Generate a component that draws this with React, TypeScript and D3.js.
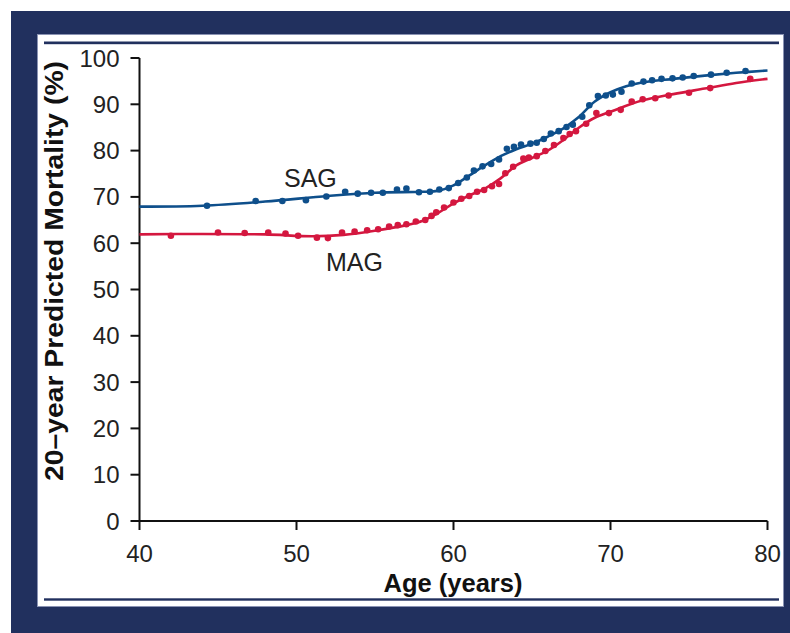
import React from "react";
import * as d3 from "d3";

// SAG observed points (age, predicted 20-yr mortality %)
const sagAges = [44.3, 47.4, 49.1, 50.6, 51.9, 53.1, 53.9, 54.75, 55.5, 56.4, 57.0, 57.8, 58.5, 59.1, 59.7, 60.3, 60.85, 61.3, 61.85, 62.4, 62.9, 63.4, 63.85, 64.3, 64.9, 65.3, 65.75, 66.2, 66.7, 67.2, 67.6, 68.2, 68.65, 69.2, 69.7, 70.15, 70.7, 71.35, 72.1, 72.65, 73.25, 73.95, 74.6, 75.3, 76.4, 77.4, 78.6];
const sagValues = [68.1, 69.1, 69.1, 69.3, 70.1, 71.1, 70.7, 70.9, 70.9, 71.6, 71.8, 71.0, 71.1, 71.6, 71.9, 73.0, 74.2, 75.7, 76.6, 77.1, 78.1, 80.4, 80.8, 81.3, 81.5, 81.7, 82.5, 83.7, 84.2, 85.1, 85.6, 87.3, 89.8, 91.8, 91.9, 92.1, 92.7, 94.5, 94.9, 95.2, 95.5, 95.6, 95.8, 96.1, 96.4, 96.8, 97.2];

// MAG observed points
const magAges = [42.0, 45.0, 46.7, 48.2, 49.3, 50.1, 51.3, 52.0, 52.9, 53.7, 54.5, 55.2, 55.9, 56.45, 57.0, 57.6, 58.2, 58.6, 58.9, 59.4, 60.0, 60.5, 61.0, 61.5, 61.95, 62.45, 62.9, 63.3, 63.8, 64.45, 64.8, 65.3, 65.85, 66.4, 67.0, 67.4, 67.8, 68.45, 69.1, 69.9, 70.65, 71.35, 72.05, 72.85, 73.7, 75.0, 76.35, 78.9];
const magValues = [61.6, 62.3, 62.2, 62.3, 62.1, 61.6, 61.2, 61.1, 62.3, 62.5, 62.8, 63.0, 63.6, 63.9, 64.1, 64.7, 65.0, 65.9, 66.7, 67.7, 68.8, 69.6, 70.2, 71.1, 71.5, 72.3, 72.8, 75.1, 76.5, 78.3, 78.5, 78.8, 79.9, 81.2, 82.7, 83.6, 84.2, 85.8, 88.1, 88.1, 88.8, 90.6, 91.1, 91.3, 91.9, 92.5, 93.5, 95.5];

// Fitted smooth curves
const sagFitAges = [40, 44, 48, 52, 55, 58, 59, 60, 61, 62, 63, 64, 65, 66, 67, 68, 69, 70, 71, 72, 74, 76, 78, 80];
const sagFitValues = [67.9, 68.1, 69.0, 70.2, 70.9, 71.1, 71.3, 72.5, 74.6, 76.8, 78.8, 80.3, 81.5, 83.0, 84.8, 87.3, 90.6, 92.6, 93.9, 94.7, 95.5, 96.2, 96.8, 97.3];
const magFitAges = [40, 44, 48, 51, 53, 55, 57, 58, 59, 60, 61, 62, 63, 64, 65, 66, 67, 68, 69, 70, 72, 74, 76, 78, 80];
const magFitValues = [61.9, 62.0, 61.9, 61.5, 61.8, 62.7, 63.9, 64.8, 66.5, 68.6, 70.3, 71.8, 74.0, 76.8, 78.4, 80.0, 82.3, 85.0, 87.1, 88.4, 90.8, 92.2, 93.4, 94.6, 95.5];

const xTicks = [40, 50, 60, 70, 80];
const yTicks = [0, 10, 20, 30, 40, 50, 60, 70, 80, 90, 100];

const NAVY = "#21305e";
const BLUE = "#0e4f8b";
const RED = "#d4173f";
const FONT = "'Liberation Sans', Arial, Helvetica, sans-serif";

export default function App() {
  const x = d3.scaleLinear().domain([40, 80]).range([139.5, 767.5]);
  const y = d3.scaleLinear().domain([0, 100]).range([521, 58]);

  const line = d3
    .line<[number, number]>()
    .x((d) => x(d[0]))
    .y((d) => y(d[1]))
    .curve(d3.curveCatmullRom.alpha(0.5));

  const sagFit: [number, number][] = sagFitAges.map((a, i) => [a, sagFitValues[i]]);
  const magFit: [number, number][] = magFitAges.map((a, i) => [a, magFitValues[i]]);

  return (
    <svg
      width={790}
      height={633}
      style={{ position: "absolute", left: 0, top: 0, background: "#fff" }}
    >
      <rect x={11} y={11} width={779} height={622} fill={NAVY} />
      <rect x={37.5} y={34.5} width={746} height={572} fill="#ffffff" stroke="#8a93b3" strokeWidth={1} />
      <rect x={44} y={41.5} width={735} height={2.7} fill={NAVY} />
      <rect x={44} y={598.3} width={735} height={2.4} fill={NAVY} />

      {/* axes */}
      <g stroke="#111" strokeWidth={2} fill="none">
        <line x1={x(40)} x2={x(80)} y1={y(0)} y2={y(0)} />
        <line x1={x(40)} x2={x(40)} y1={y(0)} y2={y(100)} />
        {yTicks.map((t) => (
          <line key={"yt" + t} x1={x(40) - 9} x2={x(40)} y1={y(t)} y2={y(t)} />
        ))}
        {xTicks.map((t) => (
          <line key={"xt" + t} x1={x(t)} x2={x(t)} y1={y(0)} y2={y(0) + 9} />
        ))}
      </g>
      <g fontFamily={FONT} fontSize={24} fill="#222">
        {yTicks.map((t) => (
          <text key={"yl" + t} x={x(40) - 20} y={y(t) + 8.5} textAnchor="end">
            {t}
          </text>
        ))}
        {xTicks.map((t) => (
          <text key={"xl" + t} x={x(t)} y={562} textAnchor="middle">
            {t}
          </text>
        ))}
      </g>
      <text x={453} y={592} textAnchor="middle" fontFamily={FONT} fontSize={25.5} fontWeight="bold" fill="#111">
        Age (years)
      </text>
      <text
        transform="translate(63,271) rotate(-90)"
        textAnchor="middle"
        fontFamily={FONT}
        fontSize={25}
        fontWeight="bold"
        fill="#111"
        textLength={420}
        lengthAdjust="spacingAndGlyphs"
      >
        20–year Predicted Mortality (%)
      </text>

      {/* curves */}
      <path d={line(sagFit) || ""} fill="none" stroke={BLUE} strokeWidth={2.6} />
      <path d={line(magFit) || ""} fill="none" stroke={RED} strokeWidth={2.6} />
      {sagAges.map((a, i) => (
        <circle key={"s" + i} cx={x(a)} cy={y(sagValues[i])} r={3.3} fill={BLUE} />
      ))}
      {magAges.map((a, i) => (
        <circle key={"m" + i} cx={x(a)} cy={y(magValues[i])} r={3.3} fill={RED} />
      ))}

      <text x={284} y={187} fontFamily={FONT} fontSize={25} fill="#222">
        SAG
      </text>
      <text x={326} y={271} fontFamily={FONT} fontSize={25} fill="#222">
        MAG
      </text>
    </svg>
  );
}
